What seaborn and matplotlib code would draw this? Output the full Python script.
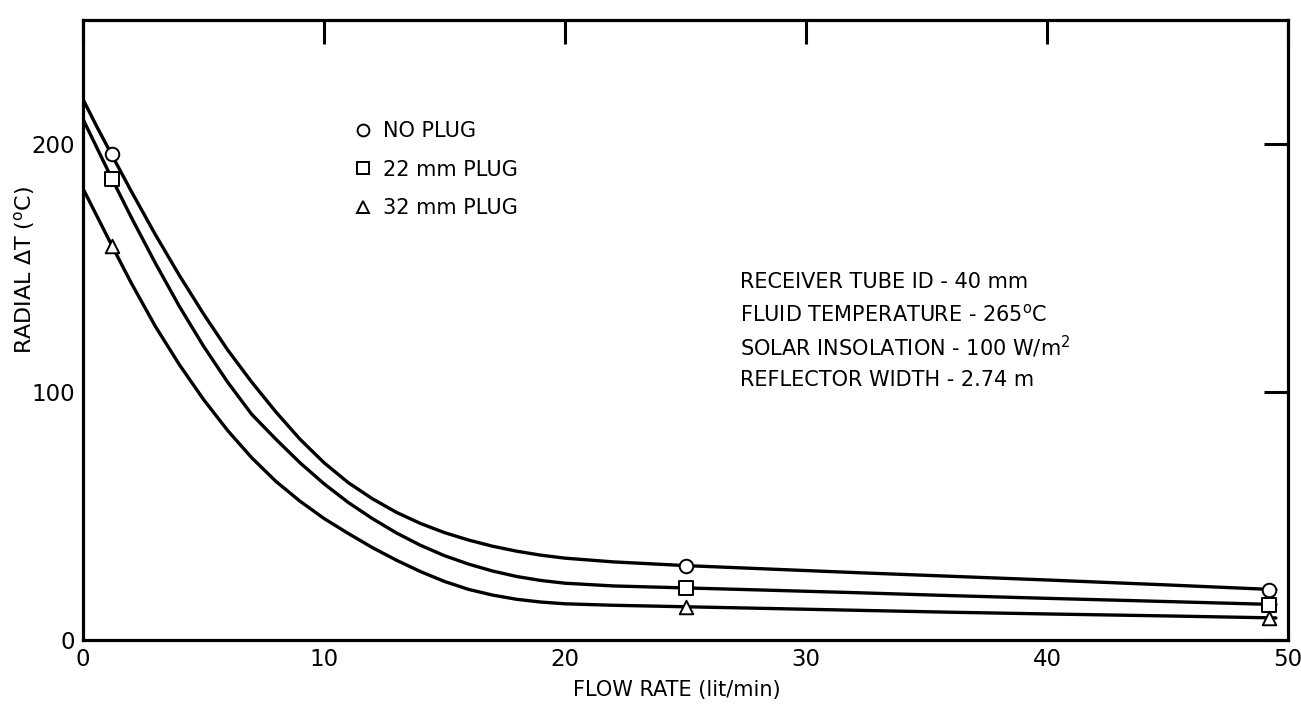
import matplotlib
matplotlib.use("Agg")
import matplotlib.pyplot as plt
import seaborn as sns
import pandas as pd
from matplotlib.lines import Line2D

# ---- data ----
curve_x = [0, 0.6, 1.2, 2, 3, 4, 5, 6, 7, 8, 9, 10, 11, 12, 13, 14, 15, 16, 17, 18,
           19, 20, 22, 25, 28, 32, 36, 40, 45, 49.5]
no_plug_curve = [218, 206.5, 195.5, 181, 163.5, 147, 131.5, 117, 104, 92, 81, 71.5, 63.5,
                 57, 51.5, 47, 43.3, 40.3, 37.8, 35.8, 34.2, 33, 31.5, 30, 28.8, 27.2,
                 25.7, 24.2, 22.2, 20.3]
plug22_curve = [210, 198, 186, 170.5, 152, 134.5, 118.5, 104, 91, 81, 71.5, 63, 55.5,
                49, 43.2, 38.2, 34, 30.6, 27.8, 25.6, 24, 22.9, 21.8, 21, 20.2, 19.1,
                17.9, 16.8, 15.5, 14.3]
plug32_curve = [182, 170.5, 159, 144, 126.5, 111, 97, 84.5, 73.5, 64, 56, 49, 43,
                37.3, 32.2, 27.6, 23.6, 20.4, 18.1, 16.4, 15.3, 14.6, 14, 13.4, 12.8, 12,
                11.2, 10.5, 9.7, 8.9]

marker_x = [1.2, 25.0, 49.2]
no_plug_pts = [196, 30, 20.3]
plug22_pts = [186, 21, 14.3]
plug32_pts = [159, 13.4, 8.9]

series_names = ["NO PLUG", "22 mm PLUG", "32 mm PLUG"]
series_markers = ["o", "s", "^"]

x_ticks = [0, 10, 20, 30, 40, 50]
y_ticks = [0, 100, 200]

notes = [
    "RECEIVER TUBE ID - 40 mm",
    r"FLUID TEMPERATURE - 265$^{\mathrm{o}}$C",
    r"SOLAR INSOLATION - 100 W/m$^{2}$",
    "REFLECTOR WIDTH - 2.74 m",
]

# ---- style ----
sns.set_theme(style="white")
plt.rcParams["font.family"] = ["DejaVu Sans"]
plt.rcParams["mathtext.fontset"] = "dejavusans"
plt.rcParams["text.color"] = "black"
plt.rcParams["axes.labelcolor"] = "black"

W, H = 1301, 708
fig = plt.figure(figsize=(W / 100, H / 100), dpi=100)
ax = fig.add_axes([83 / W, 1 - 640 / H, (1288 - 83) / W, (640 - 20) / H])

curves = [no_plug_curve, plug22_curve, plug32_curve]
points = [no_plug_pts, plug22_pts, plug32_pts]

for name, cy in zip(series_names, curves):
    df = pd.DataFrame({"x": curve_x, "y": cy})
    sns.lineplot(data=df, x="x", y="y", ax=ax, color="black", lw=2.4,
                 sort=False, estimator=None, legend=False, zorder=2)

for name, pts, mk in zip(series_names, points, series_markers):
    df = pd.DataFrame({"x": marker_x, "y": pts})
    sns.scatterplot(data=df, x="x", y="y", ax=ax, marker=mk, s=95,
                    facecolor="white", edgecolor="black", linewidth=1.4,
                    legend=False, zorder=3)

ax.set_xlim(0, 50)
ax.set_ylim(0, 250)
ax.set_xticks(x_ticks)
ax.set_yticks(y_ticks)
ax.set_xlabel("")
ax.set_ylabel("")
for s in ax.spines.values():
    s.set_linewidth(2.3)
    s.set_color("black")
ax.tick_params(direction="in", length=17, width=2.2, top=True, right=True,
               labeltop=False, labelright=False, colors="black",
               labelsize=16.5)
ax.tick_params(axis="x", pad=6)
ax.tick_params(axis="y", pad=6)

# legend
handles = [Line2D([], [], ls="none", marker=m, ms=8.5, mfc="white",
                  mec="black", mew=1.4) for m in series_markers]
ax.legend(handles, series_names, loc="upper left",
          bbox_to_anchor=(355 / W, 1 - 121 / H), bbox_transform=fig.transFigure,
          frameon=False, fontsize=15, handlelength=0.8, handletextpad=0.55,
          labelspacing=0.9, borderpad=0, borderaxespad=0, labelcolor="black")

# notes block
for i, t in enumerate(notes):
    fig.text(740 / W, 1 - (282 + i * 32.7) / H, t, fontsize=15,
             ha="left", va="center", color="black")

fig.text(25 / W, 1 - 270 / H, r"RADIAL $\Delta$T ($^{\mathrm{o}}$C)",
         rotation=90, fontsize=16, ha="center", va="center", color="black")
fig.text(677 / W, 1 - 690 / H, "FLOW RATE (lit/min)", fontsize=15,
         ha="center", va="center", color="black")

fig.savefig("out.png", dpi=100, facecolor="white")
